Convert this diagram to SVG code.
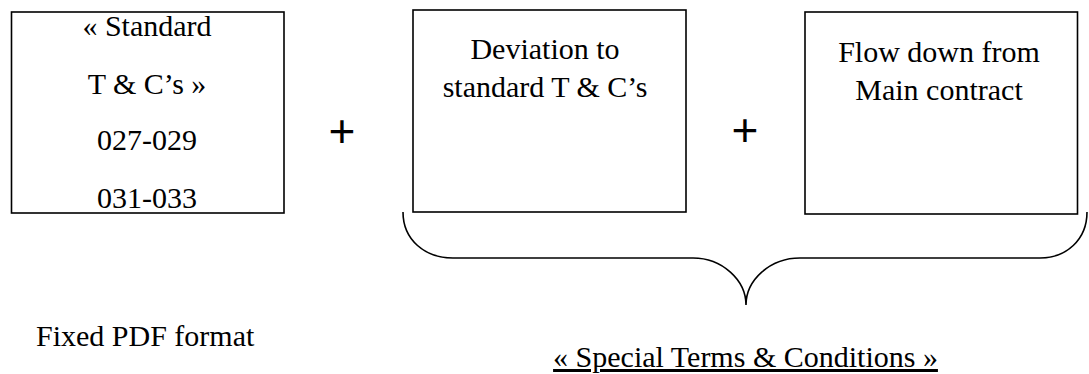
<svg xmlns="http://www.w3.org/2000/svg" width="1089" height="374" viewBox="0 0 1089 374">
<style>
.box{fill:#fff;stroke:#000;stroke-width:1.6}
.t{font-family:"Liberation Serif","Times New Roman",serif;font-size:30px;fill:#000}
.c{text-anchor:middle}
.plus{font-family:"Liberation Sans",Arial,sans-serif;font-size:46px;fill:#000;text-anchor:middle}
.brace{fill:none;stroke:#000;stroke-width:1.6}
</style>
<rect width="1089" height="374" fill="#fff"/>
<g id="node-standard">
<rect class="box" x="11.5" y="12" width="272.5" height="201"/>
<text class="t c" x="147" y="36">« Standard</text>
<text class="t c" x="147" y="94">T &amp; C’s »</text>
<text class="t c" x="147" y="150">027-029</text>
<text class="t c" x="147" y="208">031-033</text>
</g>
<g id="plus-1"><text class="plus" x="342" y="147">+</text></g>
<g id="node-deviation">
<rect class="box" x="413" y="10" width="273" height="202"/>
<text class="t c" x="545" y="59">Deviation to</text>
<text class="t c" x="545" y="97">standard T &amp; C’s</text>
</g>
<g id="plus-2"><text class="plus" x="745" y="146">+</text></g>
<g id="node-flowdown">
<rect class="box" x="805" y="12" width="272.5" height="202"/>
<text class="t c" x="939" y="62">Flow down from</text>
<text class="t c" x="939" y="100">Main contract</text>
</g>
<g id="connectors">
<path class="brace" d="M403,212 C403,240 425,258 453,258 L693,258 C722,258 746,280 746,305 C746,280 770,258 800,258 L1040,258 C1066,258 1087,240 1087,212"/>
</g>
<g id="label-fixed"><text class="t" x="36" y="346">Fixed PDF format</text></g>
<g id="label-special"><text class="t c" x="745.5" y="367" text-decoration="underline">« Special Terms &amp; Conditions »</text></g>
</svg>
